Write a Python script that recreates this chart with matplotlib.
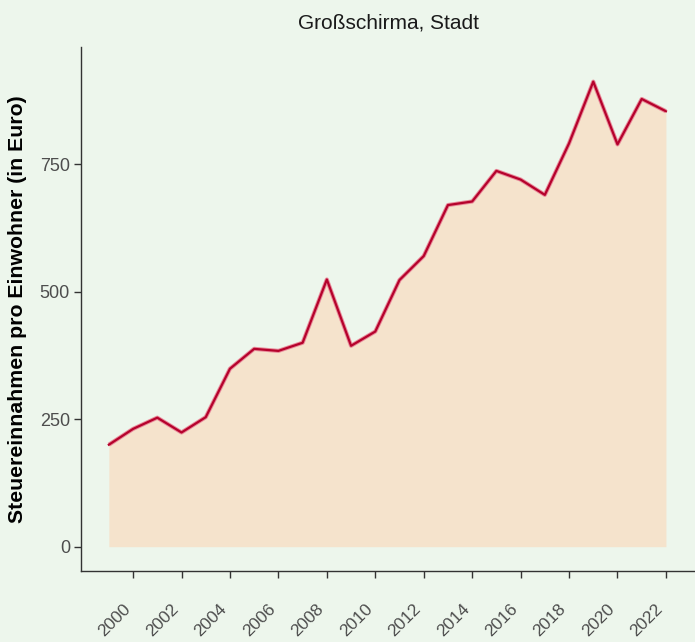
import matplotlib
matplotlib.use("Agg")
import matplotlib.pyplot as plt
import matplotlib.transforms as mtransforms

years = list(range(1999, 2023))
tax_per_head = [200, 231, 253, 224, 254, 349, 388, 384, 400, 524, 394, 422,
                523, 570, 670, 677, 737, 720, 690, 791, 912, 789, 878, 854]
title = "Großschirma, Stadt"
ylabel = "Steuereinnahmen pro Einwohner (in Euro)"
yticks = [0, 250, 500, 750]
xticks = list(range(2000, 2023, 2))

bg = "#EDF6EC"
plt.rcParams["font.family"] = ["Liberation Sans", "DejaVu Sans"]

fig = plt.figure(figsize=(6.95, 6.42), dpi=100, facecolor=bg)
ax = fig.add_axes([81 / 695, 1 - 570.5 / 642, 614 / 695, 523.5 / 642])
ax.set_facecolor(bg)

ax.fill_between(years, tax_per_head, 0, color="#F5E3CC", lw=0)
ax.plot(years, tax_per_head, color="#E98A9A", lw=3.0, solid_capstyle="butt")
ax.plot(years, tax_per_head, color="#B5022C", lw=1.6)

ax.set_xlim(1997.85, 2023.2)
ax.set_ylim(-46.7, 980)
ax.set_yticks(yticks)
ax.set_xticks(xticks)
ax.set_xticklabels([str(x) for x in xticks], rotation=45, ha="right", va="top",
                   fontsize=12.5)
# nudge the rotated year labels a little to the right
shift = mtransforms.ScaledTranslation(4 / 100, 0, fig.dpi_scale_trans)
for lab in ax.get_xticklabels():
    lab.set_transform(lab.get_transform() + shift)

for side in ("top", "right"):
    ax.spines[side].set_visible(False)
for side in ("left", "bottom"):
    ax.spines[side].set_color("#333333")
    ax.spines[side].set_linewidth(1.0)

ax.tick_params(axis="both", colors="#333333", labelcolor="#4D4D4D",
               length=5, width=1.0)
ax.tick_params(axis="y", labelsize=13, pad=3)
ax.tick_params(axis="x", pad=17)

ax.set_title(title, fontsize=15, color="#1A1A1A", pad=13)
ax.set_ylabel(ylabel, fontsize=15.3, fontweight="bold", color="#000000", labelpad=9)

fig.savefig("out.png", dpi=100, facecolor=bg)
